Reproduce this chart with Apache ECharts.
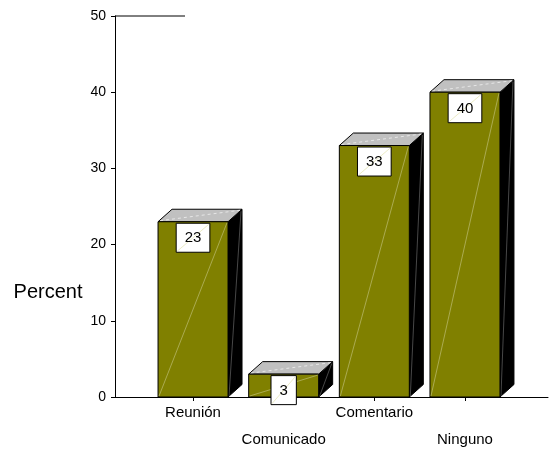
<!DOCTYPE html>
<html>
<head>
<meta charset="utf-8">
<script src="https://cdn.jsdelivr.net/npm/echarts@6/dist/echarts.min.js"></script>
<style>
  html, body { margin: 0; padding: 0; background: #fff; }
  #chart { width: 550px; height: 450px; }
</style>
</head>
<body>
<div id="chart"></div>
<script>
// Response shares (percent of respondents)
const categories = ['Reunión', 'Comunicado', 'Comentario', 'Ninguno'];
const percents = [23, 3, 33, 40];
const yMin = 0;
const yMax = 50;
const yStep = 10;
const yTitle = 'Percent';

const FONT = '"Liberation Sans", Arial, Helvetica, sans-serif';
const FRONT = '#808000';
const TOPFACE = '#c0c0c0';
const SIDE = '#000000';
const DEPTH_X = 14;
const DEPTH_Y = 12.5;

const chart = echarts.init(document.getElementById('chart'), null, { renderer: 'canvas' });

// 3D box: front face, top face, dark side face, plus a white value tag
function renderBox(params, api) {
  const idx = api.value(0);
  const val = api.value(1);
  const base = api.coord([idx, 0]);
  const top = api.coord([idx, val]);
  const band = api.size([1, 0])[0];
  const w = band * 0.772;
  const x0 = base[0] - w / 2;
  const x1 = base[0] + w / 2;
  const ty = top[1];
  const by = base[1];
  const label = String(val);
  const boxW = 8.35 * label.length + 17;
  const boxH = 29;
  const bx = base[0] - boxW / 2;
  const bty = ty + 1.5;
  return {
    type: 'group',
    children: [
      { type: 'polygon', shape: { points: [[x1, ty], [x1 + DEPTH_X, ty - DEPTH_Y], [x1 + DEPTH_X, by - DEPTH_Y], [x1, by]] },
        style: { fill: SIDE, stroke: '#000', lineWidth: 1 } },
      { type: 'line', shape: { x1: x1 + 1, y1: by - 1, x2: x1 + DEPTH_X - 1, y2: ty - DEPTH_Y + 2 },
        style: { stroke: '#777', lineWidth: 0.6 } },
      { type: 'polygon', shape: { points: [[x0, ty], [x0 + DEPTH_X, ty - DEPTH_Y], [x1 + DEPTH_X, ty - DEPTH_Y], [x1, ty]] },
        style: { fill: TOPFACE, stroke: '#000', lineWidth: 1 } },
      { type: 'line', shape: { x1: x0 + 2, y1: ty - 1, x2: x1 + DEPTH_X - 2, y2: ty - DEPTH_Y + 1 },
        style: { stroke: '#f0f0f0', lineWidth: 0.8, lineDash: [3, 3] } },
      { type: 'rect', shape: { x: x0, y: ty, width: w, height: by - ty },
        style: { fill: FRONT, stroke: '#000', lineWidth: 1 } },
      { type: 'line', shape: { x1: x0 + 1, y1: by - 1, x2: x1 - 1, y2: ty + 1 },
        style: { stroke: '#c8c888', lineWidth: 0.6 } },
      { type: 'rect', shape: { x: bx, y: bty, width: boxW, height: boxH },
        style: { fill: '#fff', stroke: '#000', lineWidth: 1 } },
      { type: 'line', shape: { x1: bx + 1, y1: bty + boxH - 1, x2: bx + boxW - 1, y2: bty + 1 },
        style: { stroke: '#dede9e', lineWidth: 0.6 } },
      { type: 'text', style: { text: label, x: base[0], y: bty + boxH / 2 + 0.5, align: 'center', verticalAlign: 'middle',
        fill: '#000', font: '15px ' + FONT } }
    ]
  };
}

chart.setOption({
  animation: false,
  backgroundColor: '#fff',
  textStyle: { fontFamily: FONT },
  grid: [
    { left: 115, right: 2, top: 16, bottom: 53, outerBoundsMode: 'none', containLabel: false },
    { left: 147.7, right: 39.7, top: 16, bottom: 53, outerBoundsMode: 'none', containLabel: false }
  ],
  xAxis: [
    { type: 'value', gridIndex: 0, min: 0, max: 1,
      axisLine: { show: true, lineStyle: { color: '#000', width: 1 } },
      axisTick: { show: false }, axisLabel: { show: false }, splitLine: { show: false } },
    { type: 'category', gridIndex: 1, data: categories,
      axisLine: { show: false },
      axisTick: { show: true, alignWithLabel: true, length: 4, lineStyle: { color: '#000' } },
      axisLabel: {
        interval: 0, margin: 2, color: '#000', fontSize: 15, fontFamily: FONT, lineHeight: 27,
        formatter: (v, i) => (i % 2 === 1 ? '\n' + v : v)
      },
      splitLine: { show: false } }
  ],
  yAxis: [
    { type: 'value', gridIndex: 0, min: yMin, max: yMax, interval: yStep,
      axisLine: { show: true, lineStyle: { color: '#000', width: 1 } },
      axisTick: { show: true, length: 4, lineStyle: { color: '#000' } },
      axisLabel: { color: '#000', fontSize: 14, fontFamily: FONT, margin: 9 },
      splitLine: { show: false } },
    { type: 'value', gridIndex: 1, min: yMin, max: yMax, show: false }
  ],
  graphic: [
    { type: 'line', shape: { x1: 115, y1: 16, x2: 185, y2: 16 }, style: { stroke: '#000', lineWidth: 1 } },
    { type: 'text', x: 48, y: 292, style: { text: yTitle, align: 'center', verticalAlign: 'middle',
      fill: '#000', font: '20px ' + FONT } }
  ],
  series: [{
    type: 'custom',
    xAxisIndex: 1,
    yAxisIndex: 1,
    renderItem: renderBox,
    data: percents.map((v, i) => [i, v]),
    z: 3
  }]
});
</script>
</body>
</html>
